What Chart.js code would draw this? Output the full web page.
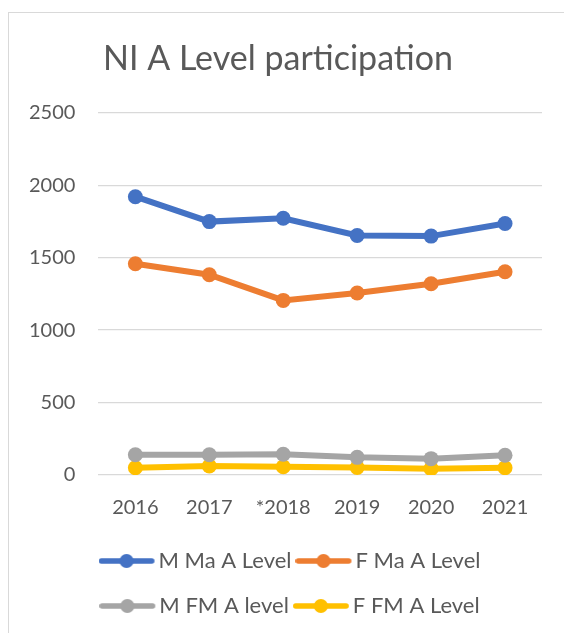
<!DOCTYPE html>
<html>
<head>
<meta charset="utf-8">
<script src="https://cdn.jsdelivr.net/npm/chart.js@4.4.0/dist/chart.umd.min.js"></script>
<style>
  html, body { margin: 0; padding: 0; background: #fff; overflow: hidden; }
  #frame {
    position: absolute; left: 8px; top: 12px; width: 700px; height: 700px;
    border-left: 1px solid #d9d9d9; border-top: 1px solid #d9d9d9;
  }
  #wrap { position: absolute; left: 0; top: 0; width: 564px; height: 629px; }
</style>
</head>
<body>
<div id="frame"></div>
<div id="wrap"><canvas id="chart"></canvas></div>
<script>
// chart data
const years = ["2016", "2017", "*2018", "2019", "2020", "2021"];
const mMaths = [1921, 1749, 1772, 1653, 1649, 1736];
const fMaths = [1458, 1382, 1205, 1256, 1320, 1403];
const mFurther = [140, 140, 143, 122, 113, 136];
const fFurther = [50, 62, 57, 52, 44, 50];
const yTicks = [0, 500, 1000, 1500, 2000, 2500];

const seriesNames = ["M Ma A Level", "F Ma A Level", "M FM A level", "F FM A Level"];
const colours = ["#4472C4", "#ED7D31", "#A5A5A5", "#FFC000"];

const textColour = "#595959";
Chart.defaults.font.family = "Lato";
Chart.defaults.color = textColour;

// line-with-dot picture for the legend (line sits left of the box centre)
function legendMark(colour) {
  const c = document.createElement("canvas");
  c.width = 68;
  c.height = 16;
  const g = c.getContext("2d");
  g.strokeStyle = colour;
  g.lineWidth = 5.5;
  g.lineCap = "round";
  g.beginPath();
  g.moveTo(2.8, 8);
  g.lineTo(53.2, 8);
  g.stroke();
  g.fillStyle = colour;
  g.beginPath();
  g.arc(28, 8, 7, 0, Math.PI * 2);
  g.fill();
  return c;
}
const marks = colours.map(legendMark);

function series(i, values) {
  return {
    label: seriesNames[i],
    data: values,
    borderColor: colours[i],
    backgroundColor: colours[i],
    borderWidth: 6,
    pointRadius: 7.5,
    pointHoverRadius: 7.5,
    pointBorderWidth: 0,
    pointBackgroundColor: colours[i],
    tension: 0
  };
}

// nudge title and legend sideways like in the original
const nudge = {
  id: "nudge",
  afterLayout(chart) {
    chart.titleBlock.left += 4;
    chart.titleBlock.right += 4;
    chart.legend.left += 25;
    chart.legend.right += 25;
  }
};

const ctx = document.getElementById("chart").getContext("2d");
new Chart(ctx, {
  type: "line",
  data: {
    labels: years,
    datasets: [
      series(0, mMaths),
      series(1, fMaths),
      series(2, mFurther),
      series(3, fFurther)
    ]
  },
  plugins: [nudge],
  options: {
    responsive: true,
    maintainAspectRatio: false,
    animation: false,
    layout: { padding: { left: 6, right: 22, top: 0, bottom: 2 } },
    plugins: {
      title: {
        display: true,
        text: "NI A Level participation",
        color: textColour,
        font: { size: 34, weight: "normal" },
        padding: { top: 39, bottom: 33 }
      },
      legend: {
        position: "bottom",
        labels: {
          usePointStyle: true,
          pointStyleWidth: 30,
          padding: 23,
          color: textColour,
          font: { size: 22 },
          generateLabels(chart) {
            const items = Chart.defaults.plugins.legend.labels.generateLabels(chart);
            items.forEach((it, i) => { it.pointStyle = marks[i]; });
            return items;
          }
        }
      },
      tooltip: { enabled: false }
    },
    scales: {
      x: {
        offset: true,
        grid: { display: false },
        border: { display: false },
        ticks: { padding: 13, font: { size: 20 }, color: textColour },
        afterFit(scale) { scale.height -= 6; }
      },
      y: {
        min: yTicks[0],
        max: yTicks[yTicks.length - 1],
        grid: { color: "#d9d9d9", lineWidth: 1.3, drawTicks: false },
        border: { display: false },
        afterBuildTicks(scale) { scale.ticks = yTicks.map(v => ({ value: v })); },
        ticks: {
          padding: 23,
          font: { size: 20 },
          color: textColour,
          callback: v => String(v)
        }
      }
    }
  }
});
</script>
</body>
</html>
